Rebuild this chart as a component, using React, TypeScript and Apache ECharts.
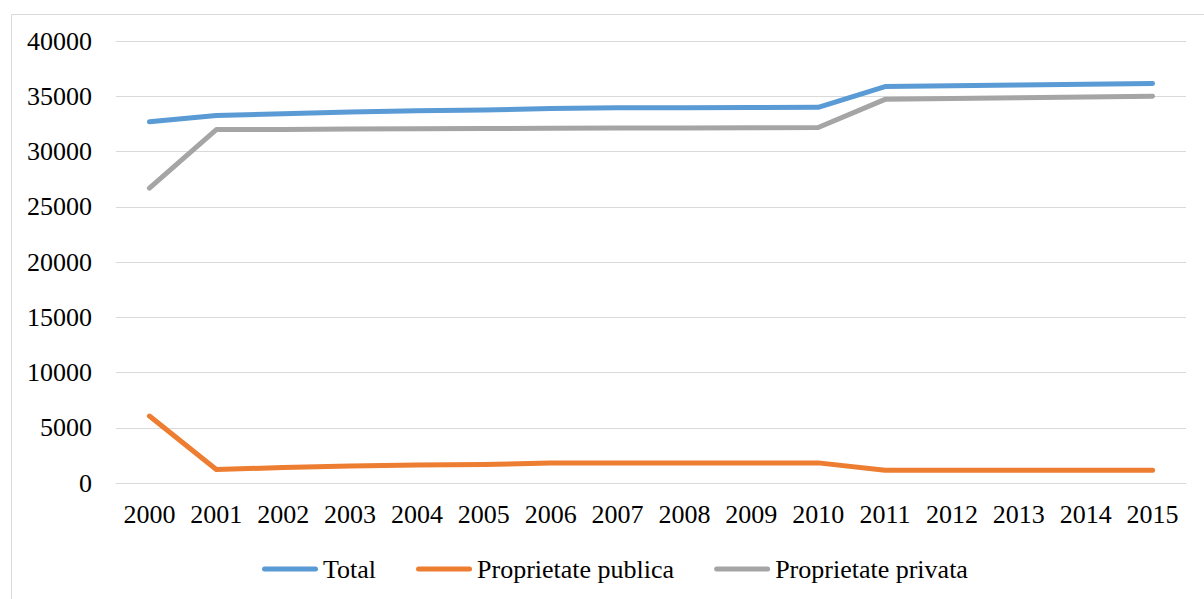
import React, { useEffect, useRef } from "react";
import * as echarts from "echarts";

const years = ["2000","2001","2002","2003","2004","2005","2006","2007","2008","2009","2010","2011","2012","2013","2014","2015"];
const totalValues = [32700, 33250, 33420, 33580, 33680, 33750, 33900, 33950, 33960, 33980, 34000, 35880, 35950, 36020, 36090, 36150];
const publicValues = [6060, 1220, 1400, 1530, 1620, 1670, 1800, 1820, 1820, 1820, 1820, 1160, 1160, 1160, 1160, 1160];
const privateValues = [26680, 31980, 32000, 32030, 32060, 32080, 32100, 32120, 32130, 32150, 32170, 34720, 34790, 34860, 34930, 35000];
const seriesNames = ["Total", "Proprietate publica", "Proprietate privata"];
const colors = ["#5b9bd5", "#ed7d31", "#a5a5a5"];

const FONT = "'Liberation Serif', 'Times New Roman', serif";
const LEGEND_ICON = "path://M2.5,0 H53.5 A2.5,2.5 0 0 1 53.5,5 H2.5 A2.5,2.5 0 0 1 2.5,0 Z";

export default function App() {
  const ref = useRef<HTMLDivElement>(null);
  useEffect(() => {
    if (!ref.current) return;
    const chart = echarts.init(ref.current, null, { renderer: "svg" });
    const dataSets = [totalValues, publicValues, privateValues];
    chart.setOption({
      animation: false,
      backgroundColor: "#ffffff",
      textStyle: { fontFamily: FONT },
      graphic: [
        {
          type: "rect",
          left: 9,
          top: 12,
          shape: { x: 0, y: 0, width: 1240, height: 640 },
          style: { fill: "none", stroke: "#d9d9d9", lineWidth: 1 },
          silent: true,
          z: -10,
        },
      ],
      grid: { left: 116, right: 18, top: 41, bottom: 116, containLabel: false },
      legend: {
        left: 257,
        top: 551,
        icon: LEGEND_ICON,
        itemWidth: 56,
        itemHeight: 5,
        itemGap: 40,
        textStyle: { fontFamily: FONT, fontSize: 26, color: "#000000" },
        data: seriesNames,
      },
      xAxis: {
        type: "category",
        data: years,
        boundaryGap: true,
        axisLine: { show: true, lineStyle: { color: "#d9d9d9", width: 1 } },
        axisTick: { show: false },
        axisLabel: { fontFamily: FONT, fontSize: 26, color: "#000000", margin: 18, interval: 0 },
      },
      yAxis: {
        type: "value",
        min: 0,
        max: 40000,
        interval: 5000,
        axisLine: { show: false },
        axisTick: { show: false },
        splitLine: { lineStyle: { color: "#d9d9d9", width: 1 } },
        axisLabel: {
          fontFamily: FONT,
          fontSize: 26,
          color: "#000000",
          margin: 24,
          formatter: (v: number) => String(v),
        },
      },
      series: seriesNames.map((name, i) => ({
        name,
        type: "line",
        data: dataSets[i],
        symbol: "none",
        showSymbol: false,
        color: colors[i],
        lineStyle: { color: colors[i], width: 5, cap: "round", join: "round" },
        itemStyle: { color: colors[i] },
        z: 3 - i,
      })),
    });
    return () => chart.dispose();
  }, []);
  return (
    <div
      ref={ref}
      style={{ position: "fixed", left: 0, top: 0, width: 1204, height: 599 }}
    />
  );
}
